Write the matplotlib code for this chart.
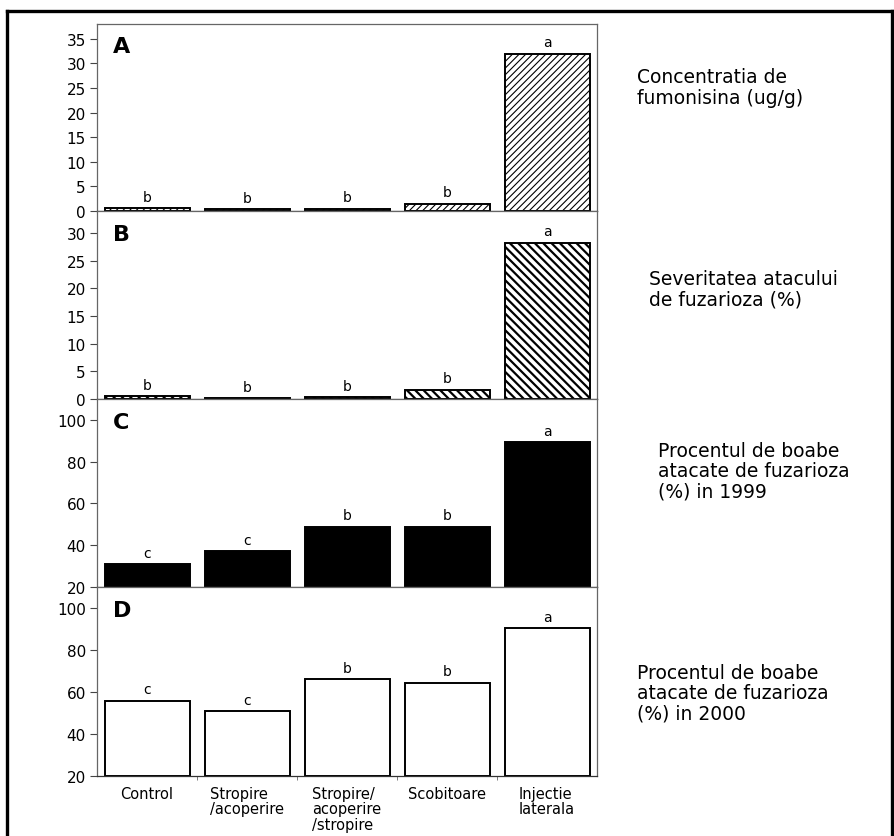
import numpy as np
import matplotlib
matplotlib.use('Agg')
import matplotlib.pyplot as plt
from matplotlib.lines import Line2D

# date
tratamente = ['Control', 'Stropire\n/acoperire', 'Stropire/\nacoperire\n/stropire',
              'Scobitoare', 'Injectie\nlaterala']
fumonisina = [0.6, 0.4, 0.5, 1.5, 32.0]
severitate = [0.5, 0.2, 0.3, 1.7, 28.3]
boabe_1999 = [30.8, 37.2, 48.9, 48.9, 89.5]
boabe_2000 = [55.9, 51.0, 66.3, 64.5, 90.3]
litere_A = ['b', 'b', 'b', 'b', 'a']
litere_B = ['b', 'b', 'b', 'b', 'a']
litere_C = ['c', 'c', 'b', 'b', 'a']
litere_D = ['c', 'c', 'b', 'b', 'a']
titluri = ['Concentratia de\nfumonisina (ug/g)',
           'Severitatea atacului\nde fuzarioza (%)',
           'Procentul de boabe\natacate de fuzarioza\n(%) in 1999',
           'Procentul de boabe\natacate de fuzarioza\n(%) in 2000']

W, H = 894, 837
fig = plt.figure(figsize=(W / 100, H / 100), dpi=100)
fig.patch.set_facecolor('white')

# chenar exterior (sus, stanga, dreapta)
y_sus = 1 - 12 / H
fig.add_artist(Line2D([7 / W, 892 / W], [y_sus, y_sus], color='black', lw=2.4))
fig.add_artist(Line2D([7 / W, 7 / W], [0.0, y_sus], color='black', lw=2.4))
fig.add_artist(Line2D([892 / W, 892 / W], [0.0, y_sus], color='black', lw=2.4))

x = np.arange(len(tratamente))
left, width = 97 / W, 500 / W
# (sus, jos) in pixeli pentru fiecare panou
limite_px = [(25, 212), (212, 400), (400, 588), (588, 777)]

panouri = [
    ('A', fumonisina, litere_A, (0, 38), np.arange(0, 36, 5),
     dict(color='white', edgecolor='black', hatch='/////'), 0.8),
    ('B', severitate, litere_B, (0, 34), np.arange(0, 31, 5),
     dict(color='white', edgecolor='black', hatch='\\\\\\\\'), 1.6),
    ('C', boabe_1999, litere_C, (20, 110), np.arange(20, 101, 20),
     dict(color='black', edgecolor='black'), 1.0),
    ('D', boabe_2000, litere_D, (20, 110), np.arange(20, 101, 20),
     dict(color='white', edgecolor='black'), 1.0),
]
text_pos = [(637, 88), (649, 290), (658, 472), (637, 694)]

for i, (lit, vals, lit_bare, ylim, yticks, stil, hlw) in enumerate(panouri):
    top_px, bot_px = limite_px[i]
    ax = fig.add_axes([left, 1 - bot_px / H, width, (bot_px - top_px) / H])
    with plt.rc_context({'hatch.linewidth': hlw}):
        ax.bar(x, np.array(vals) - ylim[0], width=0.85, bottom=ylim[0],
               linewidth=1.4, **stil)
    ax.set_xlim(-0.5, 4.5)
    ax.set_ylim(*ylim)
    ax.set_yticks(yticks)
    ax.tick_params(axis='y', labelsize=11, length=5, width=0.8, color='#444444', pad=3)
    for s in ax.spines.values():
        s.set_color('#666666')
        s.set_linewidth(0.9)
    ax.spines['bottom'].set_color('#333333')
    for xi, v, t in zip(x, vals, lit_bare):
        ax.annotate(t, (xi, v), xytext=(0, 3), textcoords='offset points',
                    ha='center', va='bottom', fontsize=10)
    ax.text(0.032, 0.88, lit, transform=ax.transAxes, fontsize=16,
            fontweight='bold', ha='left', va='center')
    if lit == 'D':
        ax.set_xticks(x)
        ax.set_xticklabels(tratamente, fontsize=10.5, multialignment='left',
                           va='top', linespacing=1.05)
        ax.set_xticks(x[:-1] + 0.5, minor=True)
        ax.tick_params(axis='x', which='major', length=0, pad=7)
        ax.tick_params(axis='x', which='minor', length=3, color='#666666')
    else:
        ax.set_xticks([])
    tx, ty = text_pos[i]
    fig.text(tx / W, 1 - ty / H, titluri[i], fontsize=13.5, ha='left', va='center',
             linespacing=1.08)

fig.savefig('out.png', dpi=100, facecolor='white')
